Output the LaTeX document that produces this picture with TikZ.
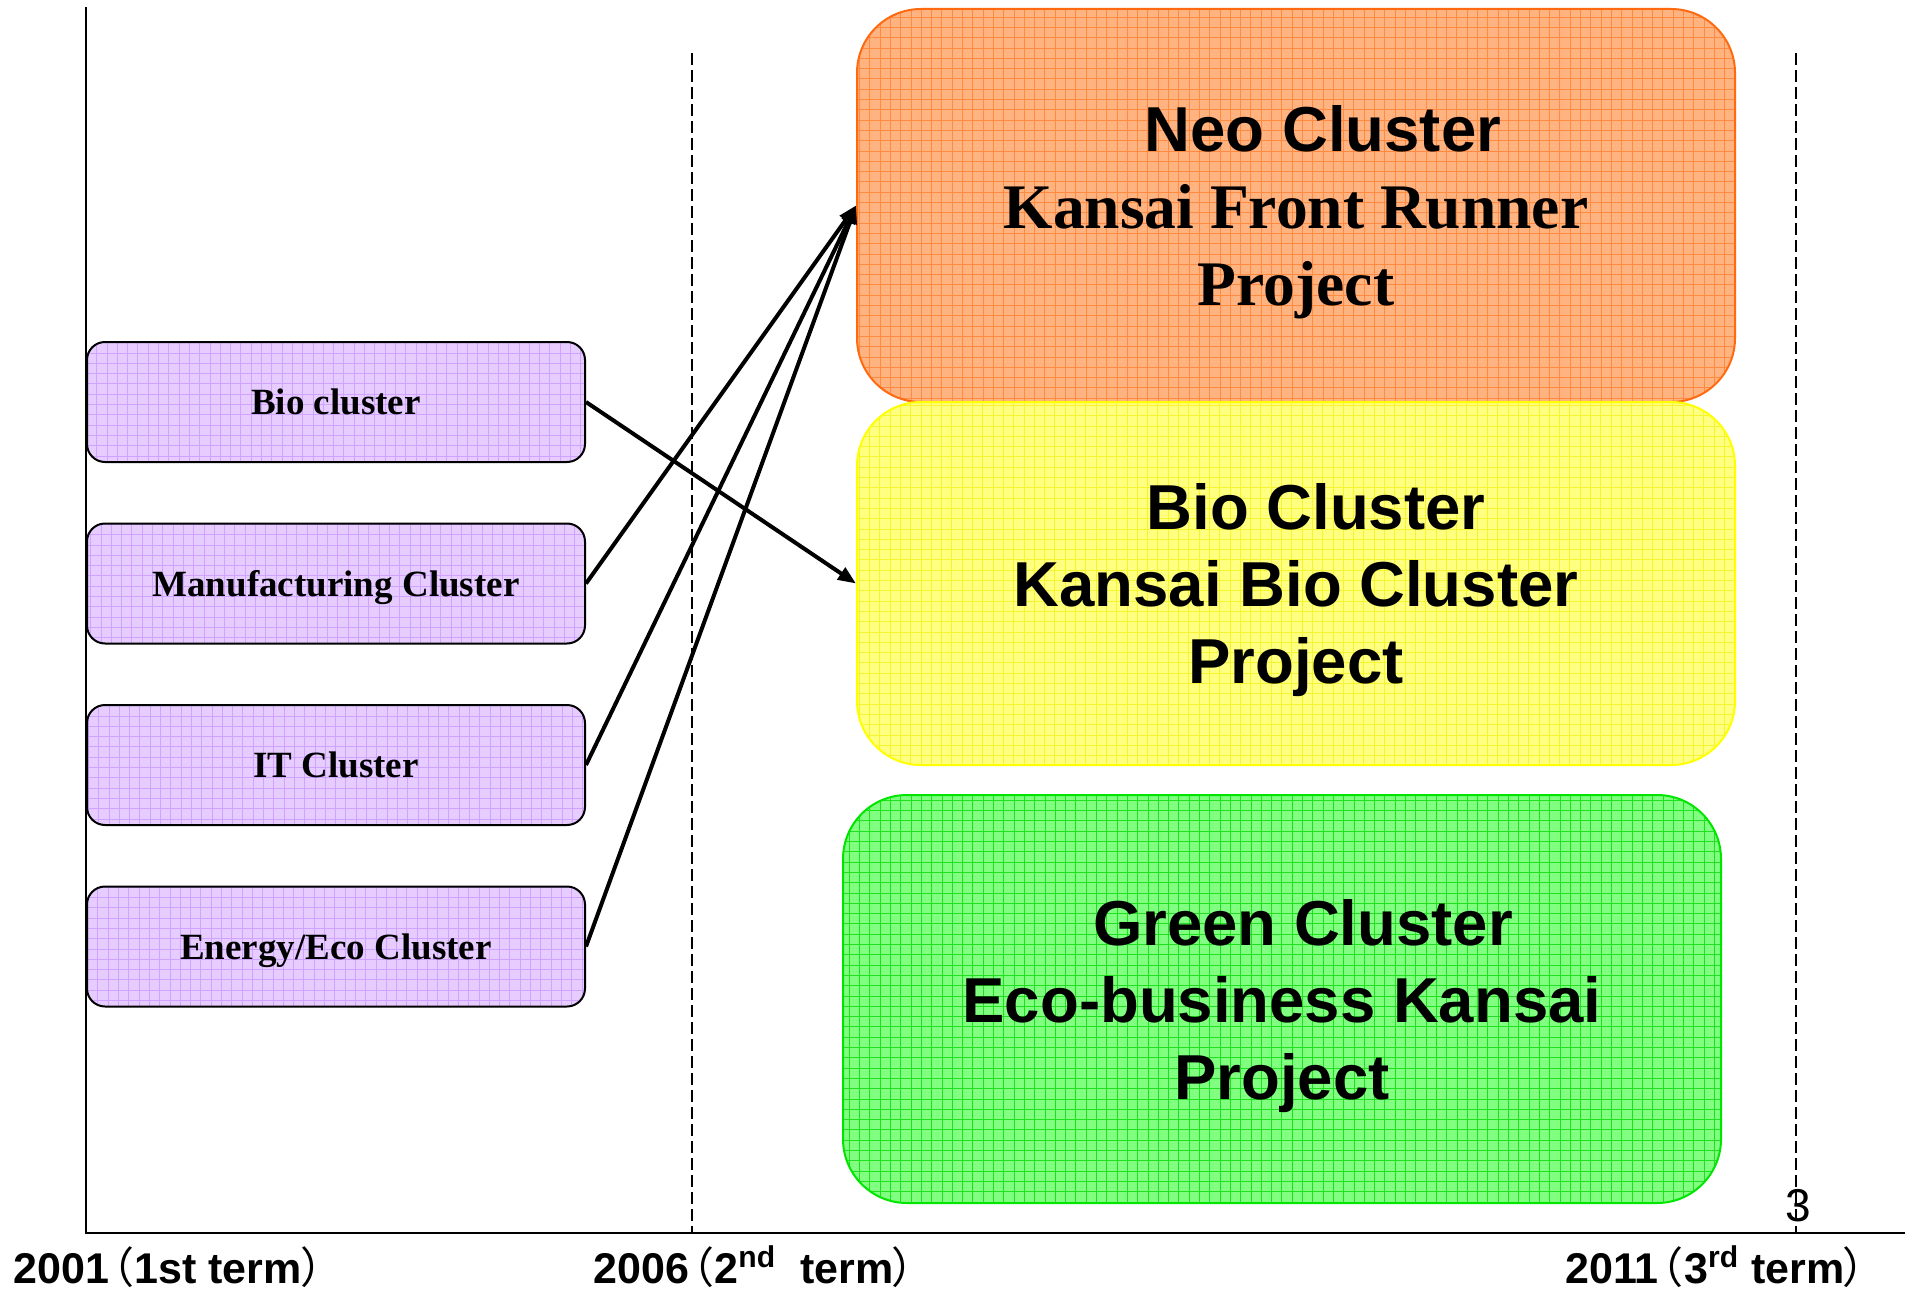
\documentclass[tikz,border=0pt]{standalone}
\usepackage{fontspec}
\setmainfont{Liberation Serif}
\setsansfont{Liberation Sans}
\newfontfamily\cjk[RawFeature=+palt]{Noto Sans CJK JP}
\usetikzlibrary{arrows.meta}
\definecolor{neofill}{HTML}{FFB380}
\definecolor{neogrid}{HTML}{FF8A40}
\definecolor{neoline}{HTML}{FF6A10}
\definecolor{biofill}{HTML}{FFFF80}
\definecolor{biogrid}{HTML}{F4F430}
\definecolor{bioline}{HTML}{FFFF00}
\definecolor{greenfill}{HTML}{80FF80}
\definecolor{greengrid}{HTML}{20E020}
\definecolor{greenline}{HTML}{00E600}
\definecolor{lilacfill}{HTML}{E6CCFF}
\definecolor{lilacgrid}{HTML}{CFA3FF}
\newcommand\projfont{\bfseries\fontsize{31.75}{38.5}\selectfont}
\newcommand\jpopen{{\cjk\mdseries\kern1pt（\kern1pt}}
\newcommand\jpclose{{\cjk\mdseries ）}}
\begin{document}
\begin{tikzpicture}[x=0.5pt,y=-0.5pt,
	gridfill/.style={path picture={\draw[#1,line width=0.5pt]
		(path picture bounding box.south west) grid[step=5.15pt]
		(path picture bounding box.north east);}},
	clusterbox/.style={draw=black,line width=1pt,rounded corners=9pt,
		fill=lilacfill,gridfill=lilacgrid,minimum width=249pt,minimum height=60pt,
		inner sep=0pt,text depth=0pt,font=\bfseries\fontsize{18.5}{22}\selectfont},
	projbox/.style={line width=1pt,rounded corners=32pt,minimum width=439pt,
		inner sep=0pt,align=center,text depth=0pt,font=\projfont},
	link/.style={line width=2pt,-{Triangle[length=9pt,width=7pt]}},
	termline/.style={line width=0.75pt,dash pattern=on 6pt off 2.5pt},
	term/.style={inner sep=0pt,anchor=base west,font=\sffamily\bfseries\fontsize{21.5}{25}\selectfont}]
\useasboundingbox (0,0) rectangle (1927,1289);
\coordinate (top) at (86,7);
\coordinate (o) at (86,1233);
\coordinate (end) at (1905,1233);
\coordinate (d1) at (692,53);
\coordinate (d1b) at (692,1233);
\coordinate (d2) at (1796,53);
\coordinate (d2b) at (1796,1233);
\draw[line width=1pt] (top) -- (o) -- (end);
\draw[termline] (d1) -- (d1b);
\draw[termline] (d2) -- (d2b);
\node[clusterbox] (bio) at (336,402) {Bio cluster};
\node[clusterbox] (manu) at (336,583.5) {Manufacturing Cluster};
\node[clusterbox] (it) at (336,765) {IT Cluster};
\node[clusterbox] (eco) at (336,946.5) {Energy/Eco Cluster};
\node[projbox,draw=neoline,fill=neofill,gridfill=neogrid,minimum height=196.5pt] (neo) at (1296,205.5)
	{\hspace*{27pt}{\sffamily Neo Cluster}\\Kansai Front Runner\\Project};
\node[projbox,draw=bioline,fill=biofill,gridfill=biogrid,minimum height=181.5pt,font=\sffamily\projfont] (biop) at (1296,583.5)
	{\hspace*{20pt}Bio Cluster\\Kansai Bio Cluster\\Project};
\node[projbox,draw=greenline,fill=greenfill,gridfill=greengrid,minimum height=204pt,font=\sffamily\projfont] (green) at (1282,999)
	{\hspace*{21pt}Green Cluster\\Eco-business Kansai\\Project};
\draw[link] (bio.east) -- (biop.west);
\draw[link] (manu.east) -- (neo.west);
\draw[link] (it.east) -- (neo.west);
\draw[link] (eco.east) -- (neo.west);
\node[inner sep=0pt,anchor=base,font=\sffamily\fontsize{23}{27}\selectfont] (page) at (1798,1221) {3};
\node[term] (t1) at (13,1283) {2001\jpopen1st term\jpclose};
\node[term] (t2) at (593,1283) {2006\jpopen2\textsuperscript{nd}\ \ term\jpclose};
\node[term] (t3) at (1565,1283) {2011\jpopen3\textsuperscript{rd} term\jpclose};
\end{tikzpicture}
\end{document}
